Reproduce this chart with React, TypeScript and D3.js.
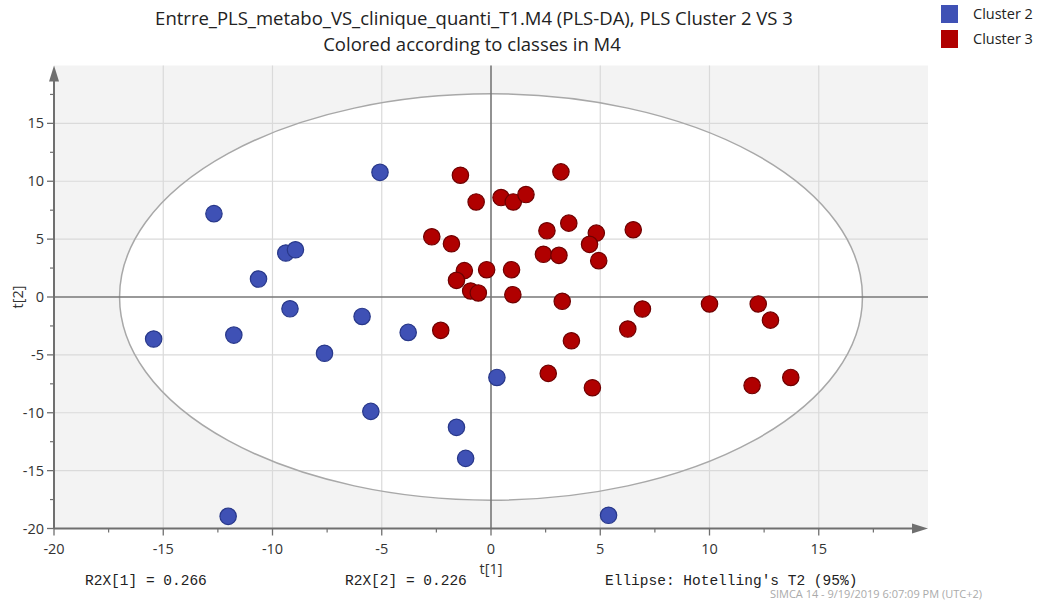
import React from "react";
import * as d3 from "d3";

// PLS-DA score plot: t[1] vs t[2], two classes
const cluster2T1 = [-5.08, -12.68, -9.39, -8.95, -10.64, -9.2, -5.9, -3.79, -15.44, -11.77, -7.62, -5.5, -1.58, -1.16, 0.27, -12.03, 5.38];
const cluster2T2 = [10.77, 7.2, 3.8, 4.08, 1.55, -1.02, -1.68, -3.06, -3.63, -3.29, -4.86, -9.88, -11.26, -13.94, -6.95, -18.95, -18.86];

const cluster3T1 = [-1.4, 3.2, -0.68, 0.46, 1.02, 1.6, -2.71, -1.81, 2.56, 3.56, 4.82, 4.51, 6.51, 2.4, 3.11, 4.93, -1.22, -1.58, -0.2, 0.94, -0.93, -0.58, 1.0, 3.26, 6.93, 10.0, -2.3, 6.26, 3.68, 2.62, 4.64, 12.23, 12.79, 11.95, 13.72];
const cluster3T2 = [10.52, 10.81, 8.21, 8.59, 8.21, 8.85, 5.2, 4.6, 5.72, 6.38, 5.52, 4.55, 5.81, 3.69, 3.6, 3.14, 2.28, 1.44, 2.36, 2.36, 0.52, 0.35, 0.2, -0.37, -1.04, -0.6, -2.88, -2.77, -3.78, -6.6, -7.84, -0.6, -2.0, -7.65, -6.95];

const xTicks = [-20, -15, -10, -5, 0, 5, 10, 15];
const yTicks = [-20, -15, -10, -5, 0, 5, 10, 15];
const minorTicks = [-17.5, -12.5, -7.5, -2.5, 2.5, 7.5, 12.5, 17.5];

// Hotelling's T2 (95%) ellipse semi-axes in score units
const ellipseT1 = 17.0;
const ellipseT2 = 17.55;

const classes = [
  { name: "Cluster 2", fill: "#3f51b5", stroke: "#28388a", t1: cluster2T1, t2: cluster2T2 },
  { name: "Cluster 3", fill: "#b00000", stroke: "#6e0000", t1: cluster3T1, t2: cluster3T2 },
];

const W = 1047;
const H = 605;
const left = 54;
const right = 928;
const top = 65.5;
const bottom = 528.5;

export default function App() {
  const x = d3.scaleLinear().domain([-20, 20]).range([left, right]);
  const y = d3.scaleLinear().domain([-20, 20]).range([bottom, top]);
  const label = "'Segoe UI', 'Open Sans', sans-serif";
  const mono = "'Liberation Mono', monospace";
  const axisColor = "#6f6f6f";

  return (
    <svg
      width={W}
      height={H}
      style={{ position: "absolute", left: 0, top: 0, background: "#fff" }}
    >
      {/* plot background */}
      <rect x={left} y={top} width={right - left} height={bottom - top} fill="#f3f3f3" />
      <ellipse
        cx={x(0)}
        cy={y(0)}
        rx={x(ellipseT1) - x(0)}
        ry={y(0) - y(ellipseT2)}
        fill="#ffffff"
      />
      {/* grid */}
      {xTicks.filter((t) => t !== 0 && t !== -20).map((t) => (
        <line key={"gx" + t} x1={x(t)} x2={x(t)} y1={top} y2={bottom} stroke="#dadada" strokeWidth={1.2} />
      ))}
      {yTicks.filter((t) => t !== 0 && t !== -20).map((t) => (
        <line key={"gy" + t} x1={left} x2={right} y1={y(t)} y2={y(t)} stroke="#dadada" strokeWidth={1.2} />
      ))}
      <ellipse
        cx={x(0)}
        cy={y(0)}
        rx={x(ellipseT1) - x(0)}
        ry={y(0) - y(ellipseT2)}
        fill="none"
        stroke="#a8a8a8"
        strokeWidth={1.5}
      />
      {/* zero lines */}
      <line x1={x(0)} x2={x(0)} y1={top} y2={bottom} stroke="#777" strokeWidth={1.6} />
      <line x1={left} x2={right} y1={y(0)} y2={y(0)} stroke="#777" strokeWidth={1.6} />

      {/* axes */}
      <line x1={left} x2={right - 12} y1={bottom} y2={bottom} stroke={axisColor} strokeWidth={2} />
      <path d={`M${right},${bottom} L${right - 16},${bottom - 5} L${right - 16},${bottom + 5} Z`} fill={axisColor} />
      <line x1={left} x2={left} y1={bottom} y2={top + 12} stroke={axisColor} strokeWidth={2} />
      <path d={`M${left},${top} L${left - 5},${top + 16} L${left + 5},${top + 16} Z`} fill={axisColor} />

      {xTicks.map((t) => (
        <g key={"xt" + t}>
          <line x1={x(t)} x2={x(t)} y1={bottom} y2={bottom + 7} stroke={axisColor} strokeWidth={1.3} />
          <text x={x(t)} y={bottom + 25} textAnchor="middle" fontFamily={label} fontSize={14.5} fill="#333">
            {t}
          </text>
        </g>
      ))}
      {minorTicks.map((t) => (
        <line key={"xm" + t} x1={x(t)} x2={x(t)} y1={bottom} y2={bottom + 4} stroke={axisColor} strokeWidth={1.2} />
      ))}
      {yTicks.map((t) => (
        <g key={"yt" + t}>
          <line x1={left - 7} x2={left} y1={y(t)} y2={y(t)} stroke={axisColor} strokeWidth={1.3} />
          <text x={left - 10} y={y(t) + 5} textAnchor="end" fontFamily={label} fontSize={14.5} fill="#333">
            {t}
          </text>
        </g>
      ))}
      {minorTicks.map((t) => (
        <line key={"ym" + t} x1={left - 4} x2={left} y1={y(t)} y2={y(t)} stroke={axisColor} strokeWidth={1.2} />
      ))}

      <text x={x(0)} y={bottom + 45} textAnchor="middle" fontFamily={label} fontSize={14.5} fill="#333">
        t[1]
      </text>
      <text
        transform={`translate(23,${y(0)}) rotate(-90)`}
        textAnchor="middle"
        fontFamily={label}
        fontSize={14.5}
        fill="#333"
      >
        t[2]
      </text>

      {/* points */}
      {classes.map((c) => (
        <g key={c.name}>
          {c.t1.map((v, i) => (
            <circle key={i} cx={x(v)} cy={y(c.t2[i])} r={8.2} fill={c.fill} stroke={c.stroke} strokeWidth={1.2} />
          ))}
        </g>
      ))}

      {/* title */}
      <text x={474} y={25} textAnchor="middle" fontFamily={label} fontSize={18.5} fill="#222">
        Entrre_PLS_metabo_VS_clinique_quanti_T1.M4 (PLS-DA), PLS Cluster 2 VS 3
      </text>
      <text x={472} y={51} textAnchor="middle" fontFamily={label} fontSize={18.5} fill="#222">
        Colored according to classes in M4
      </text>

      {/* legend */}
      {classes.map((c, i) => (
        <g key={"lg" + c.name} transform={`translate(941,${5 + i * 25})`}>
          <rect width={17} height={18} fill={c.fill} />
          <text x={32} y={14} fontFamily={label} fontSize={14.5} fill="#222">
            {c.name}
          </text>
        </g>
      ))}

      {/* footer */}
      <text x={85} y={585} fontFamily={mono} fontSize={14.5} fill="#222">R2X[1] = 0.266</text>
      <text x={345} y={585} fontFamily={mono} fontSize={14.5} fill="#222">R2X[2] = 0.226</text>
      <text x={605} y={585} fontFamily={mono} fontSize={14.5} fill="#222">Ellipse: Hotelling's T2 (95%)</text>
      <text x={982} y={598} textAnchor="end" fontFamily={label} fontSize={11} fill="#aaa">
        SIMCA 14 - 9/19/2019 6:07:09 PM (UTC+2)
      </text>
    </svg>
  );
}
